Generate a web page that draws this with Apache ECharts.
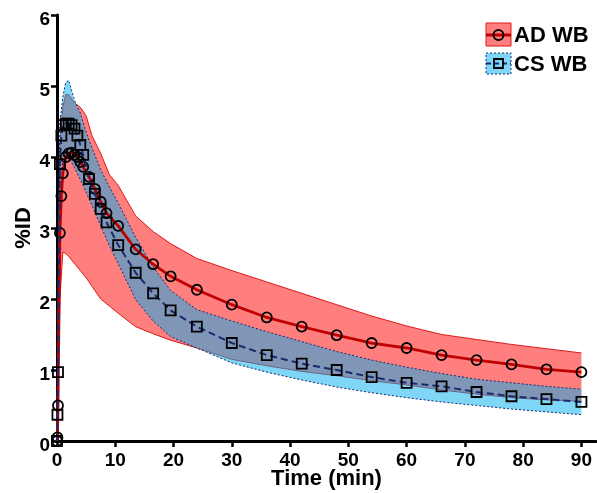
<!DOCTYPE html>
<html>
<head>
<meta charset="utf-8">
<title>%ID vs time</title>
<script src="https://cdn.jsdelivr.net/npm/echarts@6/dist/echarts.min.js"></script>
<style>
  html, body { margin: 0; padding: 0; background: #fff; }
  #chart { width: 597px; height: 493px; }
</style>
</head>
<body>
<div id="chart"></div>
<script>
// sampled time points (min) for the mean curves
const times = [0, 0.08, 0.17, 0.5, 0.75, 1, 1.5, 2, 2.5, 3, 3.5, 4, 4.5, 5.5, 6.5, 7.5, 8.5, 10.5,
  13.5, 16.5, 19.5, 24, 30, 36, 42, 48, 54, 60, 66, 72, 78, 84, 90];
const adWB = [0, 0.05, 0.5, 2.93, 3.45, 3.77, 4.0, 4.05, 4.06, 4.03, 4.0, 3.93, 3.86, 3.72, 3.55, 3.37, 3.21, 3.03,
  2.70, 2.49, 2.32, 2.13, 1.92, 1.74, 1.61, 1.49, 1.38, 1.31, 1.21, 1.14, 1.08, 1.01, 0.97];
const csWB = [0, 0.37, 0.97, 3.9, 4.3, 4.45, 4.47, 4.47, 4.45, 4.4, 4.3, 4.17, 4.03, 3.69, 3.48, 3.27, 3.08, 2.76,
  2.37, 2.08, 1.84, 1.61, 1.38, 1.21, 1.09, 1.00, 0.90, 0.82, 0.77, 0.69, 0.63, 0.59, 0.55];

// spread bands (lower / upper edge)
const bandTimes = [0, 0.25, 0.5, 1, 1.5, 2, 3, 4, 5, 6, 7.5, 9, 10.5, 13.5, 16.5, 19.5, 24,
  30, 36, 42, 48, 54, 60, 66, 72, 78, 84, 90];
const adLow = [0, 1.0, 2.0, 2.66, 2.64, 2.6, 2.5, 2.4, 2.3, 2.18, 2.0, 1.9, 1.8, 1.61, 1.51, 1.42, 1.31,
  1.15, 1.06, 0.98, 0.92, 0.85, 0.79, 0.72, 0.66, 0.61, 0.58, 0.56];
const adHigh = [0, 2.5, 4.2, 4.7, 4.88, 4.88, 4.76, 4.7, 4.58, 4.3, 4.05, 3.75, 3.6, 3.17, 2.95, 2.78, 2.57,
  2.4, 2.24, 2.08, 1.92, 1.76, 1.62, 1.5, 1.43, 1.36, 1.3, 1.24];
const csLow = [0, 1.5, 3.0, 4.0, 4.05, 4.0, 3.85, 3.68, 3.5, 3.32, 3.03, 2.75, 2.5, 1.99, 1.69, 1.47, 1.31,
  1.1, 0.97, 0.86, 0.76, 0.68, 0.61, 0.55, 0.5, 0.45, 0.41, 0.37];
const csHigh = [0, 3.0, 4.5, 4.85, 5.05, 5.08, 4.8, 4.62, 4.35, 4.13, 3.82, 3.58, 3.35, 2.87, 2.45, 2.12, 1.85,
  1.69, 1.54, 1.40, 1.26, 1.14, 1.04, 0.95, 0.87, 0.82, 0.77, 0.73];

const FONT = '"Liberation Sans", Arial, sans-serif';
const RED = '#c00000';
const RED_EDGE = '#e01818';
const NAVY = '#1a2a6c';
const RED_FILL = 'rgba(255,0,0,0.5)';
const BLUE_FILL = 'rgba(0,173,237,0.5)';

function pairs(xs, ys) { return xs.map((x, i) => [x, ys[i]]); }

// one custom series per band: filled polygon between lo and hi, plus both edges
function bandSeries(name, lo, hi, fill, edge, dash, z) {
  return {
    name: name, type: 'custom', z: z, silent: true,
    data: bandTimes.map((t, i) => [t, lo[i], hi[i]]),
    encode: { x: 0, y: [1, 2] },
    renderItem: function (params, api) {
      if (params.dataIndex !== 0) return null;
      const top = bandTimes.map((t, i) => api.coord([t, hi[i]]));
      const bottom = bandTimes.map((t, i) => api.coord([t, lo[i]]));
      const edgeStyle = { fill: null, stroke: edge, lineWidth: 1, lineDash: dash };
      return {
        type: 'group',
        children: [
          { type: 'polygon', shape: { points: top.concat(bottom.slice().reverse()) }, style: { fill: fill } },
          { type: 'polyline', shape: { points: top }, style: edgeStyle },
          { type: 'polyline', shape: { points: bottom }, style: edgeStyle }
        ]
      };
    }
  };
}

const axisText = { color: '#000', fontFamily: FONT, fontWeight: 'bold', fontSize: 19 };
const nameText = { color: '#000', fontFamily: FONT, fontWeight: 'bold', fontSize: 22 };

const chart = echarts.init(document.getElementById('chart'), null, { renderer: 'canvas' });

chart.setOption({
  animation: false,
  backgroundColor: '#fff',
  grid: { left: 57, top: 15, width: 539, height: 426, outerBoundsMode: 'none', containLabel: false },
  xAxis: {
    type: 'value', min: 0, max: 92.5, interval: 10,
    name: 'Time (min)', nameLocation: 'middle', nameGap: 27, nameMoveOverlap: false, nameTextStyle: nameText,
    axisLine: { show: true, lineStyle: { color: '#000', width: 3 } },
    axisTick: { show: true, length: 6, lineStyle: { color: '#000', width: 2.5 } },
    axisLabel: Object.assign({ margin: 10, showMaxLabel: false,
      formatter: v => (v % 10 === 0 ? String(v) : '') }, axisText),
    splitLine: { show: false }
  },
  yAxis: {
    type: 'value', min: 0, max: 6, interval: 1,
    name: '%ID', nameLocation: 'middle', nameGap: 22, nameRotate: 90, nameMoveOverlap: false, nameTextStyle: nameText,
    axisLine: { show: true, lineStyle: { color: '#000', width: 3 } },
    axisTick: { show: true, length: 6, lineStyle: { color: '#000', width: 2.5 } },
    // labels sit a little below their ticks, as in the original
    axisLabel: Object.assign({ margin: 7, verticalAlign: 'top', lineHeight: 9 }, axisText),
    splitLine: { show: false }
  },
  series: [
    bandSeries('AD band', adLow, adHigh, RED_FILL, RED_EDGE, null, 1),
    bandSeries('CS band', csLow, csHigh, BLUE_FILL, NAVY, [2, 2], 2),
    { name: 'AD WB', type: 'line', data: pairs(times, adWB), symbol: 'circle', symbolSize: 10,
      itemStyle: { color: 'transparent', borderColor: '#000', borderWidth: 1.8 },
      lineStyle: { color: RED, width: 2.8 }, emphasis: { disabled: true }, z: 3 },
    { name: 'CS WB', type: 'line', data: pairs(times, csWB), symbol: 'rect', symbolSize: 10,
      itemStyle: { color: 'transparent', borderColor: '#000', borderWidth: 1.8 },
      lineStyle: { color: NAVY, width: 2, type: [7, 4] }, emphasis: { disabled: true }, z: 4 }
  ],
  graphic: [
    { type: 'rect', z: 100, shape: { x: 486, y: 23, width: 25, height: 23 },
      style: { fill: RED_FILL, stroke: RED_EDGE, lineWidth: 1 } },
    { type: 'line', z: 101, shape: { x1: 486, y1: 35, x2: 511, y2: 35 }, style: { stroke: RED, lineWidth: 3 } },
    { type: 'circle', z: 102, shape: { cx: 498.5, cy: 35, r: 5 }, style: { fill: 'none', stroke: '#000', lineWidth: 1.8 } },
    { type: 'text', z: 102, x: 514, y: 35.5,
      style: { text: 'AD WB', fill: '#000', font: 'bold 22px ' + FONT, verticalAlign: 'middle' } },

    { type: 'rect', z: 100, shape: { x: 486, y: 53, width: 25, height: 21 },
      style: { fill: BLUE_FILL, stroke: NAVY, lineWidth: 1, lineDash: [2, 2] } },
    { type: 'line', z: 101, shape: { x1: 486, y1: 63.5, x2: 511, y2: 63.5 },
      style: { stroke: NAVY, lineWidth: 2, lineDash: [5, 3] } },
    { type: 'rect', z: 102, shape: { x: 494, y: 59, width: 9, height: 9 },
      style: { fill: 'none', stroke: '#000', lineWidth: 1.8 } },
    { type: 'text', z: 102, x: 514, y: 64.5,
      style: { text: 'CS WB', fill: '#000', font: 'bold 22px ' + FONT, verticalAlign: 'middle' } }
  ]
});
</script>
</body>
</html>
